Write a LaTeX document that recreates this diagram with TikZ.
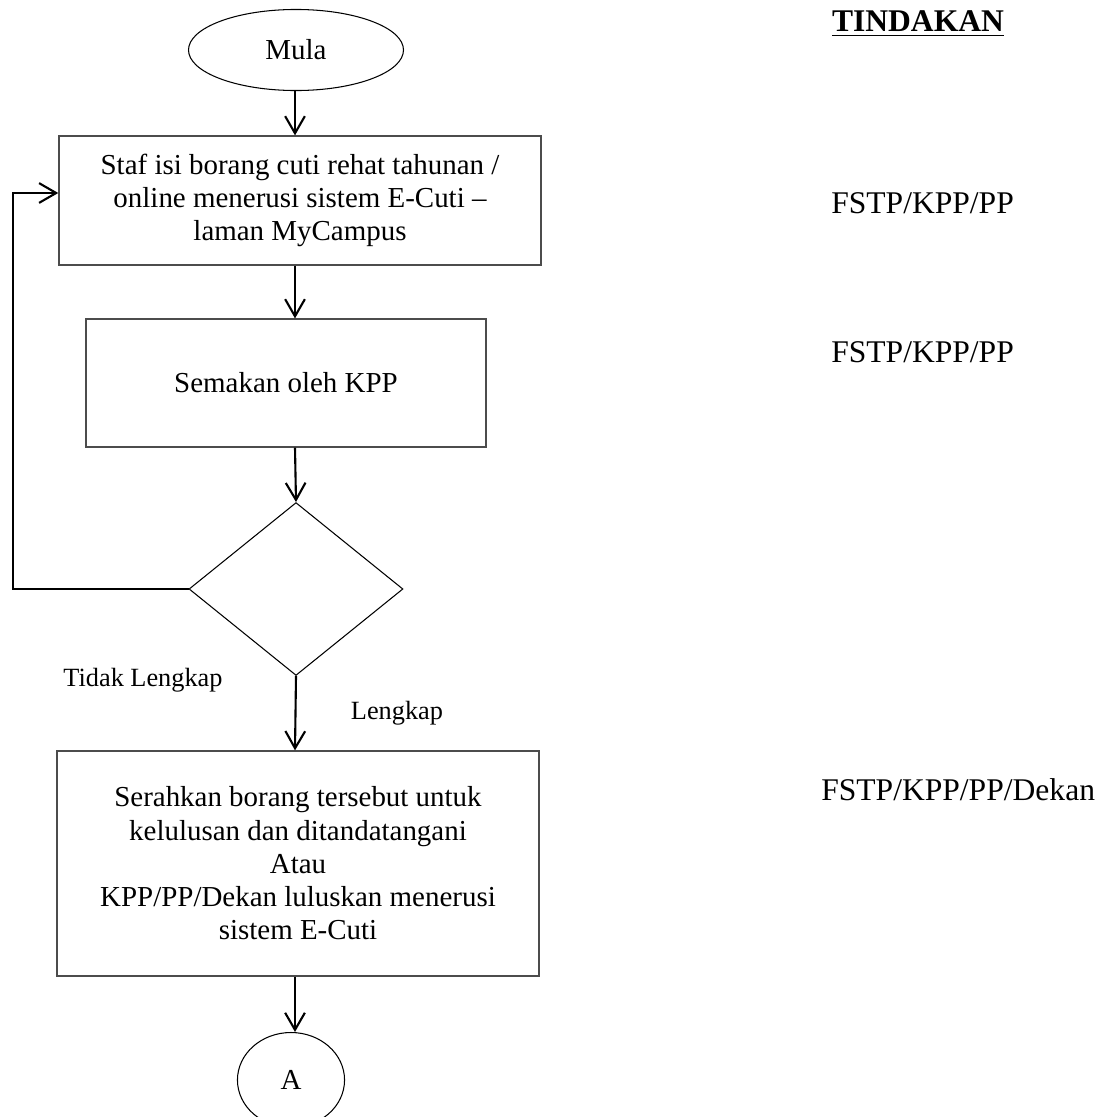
\documentclass[tikz,border=0pt]{standalone}
\usepackage{fontspec}
\setmainfont{Liberation Serif}
\usetikzlibrary{shapes.geometric,arrows.meta}
\begin{document}
\begin{tikzpicture}[x=0.38pt, y=-0.38pt,
  every node/.style={font=\fontsize{11}{12.65}\selectfont},
  procbox/.style={draw=black!70, line width=0.5pt, rectangle, align=center, inner sep=0pt},
  lbl/.style={font=\fontsize{10}{12}\selectfont},
  act/.style={anchor=west, font=\fontsize{12}{14}\selectfont},
  arr/.style={line width=0.8pt, -{Straight Barb[length=6.5pt, width=7.5pt]}}]
  \useasboundingbox (0,0) rectangle (1112,1117);
  \coordinate (axis) at (295,0);
  % flow
  \node[draw, ellipse, line width=0.4pt, inner sep=0pt, minimum width=81.7pt, minimum height=30.8pt] (mula) at (296,50) {Mula};
  \node[procbox, minimum width=183.2pt, minimum height=49pt] (staf) at (300,200.5) {Staf isi borang cuti rehat tahunan /\\online menerusi sistem E-Cuti --\\laman MyCampus};
  \node[procbox, minimum width=152pt, minimum height=48.6pt] (semak) at (286,383) {Semakan oleh KPP};
  \node[draw, diamond, line width=0.4pt, inner sep=0pt, minimum width=81.3pt, minimum height=65.7pt] (dec) at (296,589) {};
  \node[procbox, minimum width=183.2pt, minimum height=85.5pt] (serah) at (298,863.5) {Serahkan borang tersebut untuk\\kelulusan dan ditandatangani\\Atau\\KPP/PP/Dekan luluskan menerusi\\sistem E-Cuti};
  \node[draw, ellipse, line width=0.4pt, inner sep=0pt, minimum width=40.7pt, minimum height=36.1pt] (A) at (291,1080) {A};
  \draw[arr] (mula.south -| axis) -- (staf.north -| axis);
  \draw[arr] (staf.south -| axis) -- (semak.north -| axis);
  \draw[arr] (semak.south -| axis) -- (dec.north);
  \draw[arr] (dec.south) -- (serah.north -| axis);
  \draw[arr] (serah.south -| axis) -- (A.north -| axis);
  \coordinate (back) at (13,193);
  \draw[arr] (dec.west) -| (back) -- (back -| staf.west);
  \node[lbl] (tidak) at (143,680) {Tidak Lengkap};
  \node[lbl] (lengkap) at (397,713) {Lengkap};
  % tindakan column
  \node[font=\fontsize{12}{14}\selectfont] (tindakan) at (918,24) {\underline{\textbf{TINDAKAN}}};
  \node[act] (act1) at (822,203) {FSTP/KPP/PP};
  \node[act] (act2) at (822,352) {FSTP/KPP/PP};
  \node[act] (act3) at (812,790) {FSTP/KPP/PP/Dekan};
\end{tikzpicture}
\end{document}
